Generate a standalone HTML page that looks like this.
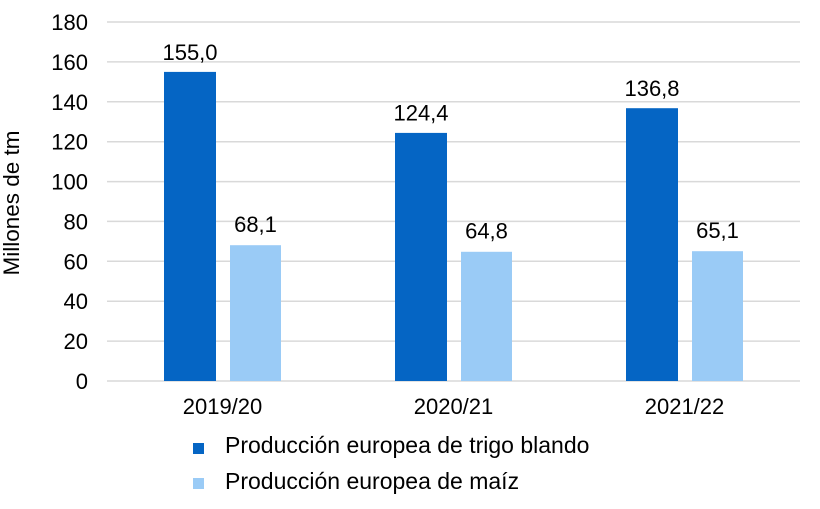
<!DOCTYPE html>
<html>
<head>
<meta charset="utf-8">
<style>
  html,body{margin:0;padding:0;background:#fff;}
  svg{display:block;font-family:"Liberation Sans",Arial,sans-serif;}
</style>
</head>
<body>
<svg width="820" height="509" viewBox="0 0 820 509" xmlns="http://www.w3.org/2000/svg">
  <rect width="820" height="509" fill="#fff"/>
  <g stroke="#d9d9d9" stroke-width="1.5">
    <line x1="107" x2="800" y1="22" y2="22"/>
    <line x1="107" x2="800" y1="61.9" y2="61.9"/>
    <line x1="107" x2="800" y1="101.8" y2="101.8"/>
    <line x1="107" x2="800" y1="141.7" y2="141.7"/>
    <line x1="107" x2="800" y1="181.6" y2="181.6"/>
    <line x1="107" x2="800" y1="221.4" y2="221.4"/>
    <line x1="107" x2="800" y1="261.3" y2="261.3"/>
    <line x1="107" x2="800" y1="301.2" y2="301.2"/>
    <line x1="107" x2="800" y1="341.1" y2="341.1"/>
    <line x1="107" x2="800" y1="381" y2="381"/>
  </g>
  <g font-size="22" fill="#000" text-anchor="end">
    <text x="88" y="30">180</text>
    <text x="88" y="69.9">160</text>
    <text x="88" y="109.8">140</text>
    <text x="88" y="149.7">120</text>
    <text x="88" y="189.6">100</text>
    <text x="88" y="229.4">80</text>
    <text x="88" y="269.3">60</text>
    <text x="88" y="309.2">40</text>
    <text x="88" y="349.1">20</text>
    <text x="88" y="389">0</text>
  </g>
  <text transform="translate(19,203) rotate(-90)" font-size="22.5" text-anchor="middle" fill="#000">Millones de tm</text>
  <!-- bars -->
  <g fill="#0565c4">
    <rect x="164" y="71.9" width="52" height="309.1"/>
    <rect x="395" y="132.9" width="52" height="248.1"/>
    <rect x="626" y="108.2" width="52" height="272.8"/>
  </g>
  <g fill="#9acbf6">
    <rect x="230" y="245.2" width="51" height="135.8"/>
    <rect x="461" y="251.8" width="51" height="129.2"/>
    <rect x="692" y="251.2" width="51" height="129.8"/>
  </g>
  <g font-size="22" fill="#000" text-anchor="middle">
    <text x="190" y="60">155,0</text>
    <text x="255.5" y="232">68,1</text>
    <text x="421" y="120.5">124,4</text>
    <text x="486.5" y="238.5">64,8</text>
    <text x="652" y="96">136,8</text>
    <text x="717.5" y="238">65,1</text>
  </g>
  <g font-size="22" fill="#000" text-anchor="middle">
    <text x="222.5" y="414">2019/20</text>
    <text x="453.5" y="414">2020/21</text>
    <text x="684.5" y="414">2021/22</text>
  </g>
  <rect x="193" y="443" width="11" height="11" fill="#0565c4"/>
  <rect x="193" y="478" width="11" height="11" fill="#9acbf6"/>
  <g font-size="23" fill="#000">
    <text x="225" y="453">Producción europea de trigo blando</text>
    <text x="225" y="489">Producción europea de maíz</text>
  </g>
</svg>
</body>
</html>
